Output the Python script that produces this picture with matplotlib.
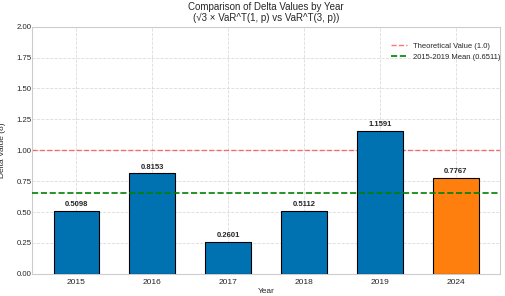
import matplotlib
matplotlib.use("Agg")
import matplotlib.pyplot as plt
import seaborn as sns

years = ["2015", "2016", "2017", "2018", "2019", "2024"]
deltas = [0.5098, 0.8153, 0.2601, 0.5112, 1.1591, 0.7767]
bar_colors = ["#0072B2"] * 5 + ["#FF7F0E"]
theory = 1.0
mean_1519 = 0.6511

sns.set_style("whitegrid")
plt.rcParams['font.family'] = ['Liberation Sans', 'DejaVu Sans']

fig = plt.figure(figsize=(5.05, 2.96), dpi=100)
ax = fig.add_axes([0.064, 0.075, 0.926, 0.835])

x = range(len(years))
bars = ax.bar(x, deltas, width=0.6, color=bar_colors, edgecolor="black", linewidth=0.8, zorder=3)
ax.axhline(theory, color="red", linestyle="--", linewidth=1, alpha=0.55,
           label="Theoretical Value (1.0)", zorder=2)
ax.axhline(mean_1519, color="green", linestyle="--", linewidth=1.2,
           label="2015-2019 Mean (0.6511)", zorder=4)

for b, v in zip(bars, deltas):
    ax.text(b.get_x() + b.get_width() / 2, v + 0.02, f"{v:.4f}",
            ha="center", va="bottom", fontsize=5.5, fontweight="bold")

ax.set_xticks(list(x))
ax.set_xticklabels(years, fontsize=6)
ax.set_ylim(0, 2.0)
ax.set_yticks([i * 0.25 for i in range(9)])
ax.tick_params(axis="y", labelsize=5.6, pad=0.5, length=0)
ax.tick_params(axis="x", pad=3.5, length=0)
ax.grid(True, linestyle="--", alpha=0.7, linewidth=0.6)
ax.set_xlabel("Year", fontsize=6, labelpad=1.5)
ax.set_ylabel("Delta Value (δ)", fontsize=6)
ax.yaxis.set_label_coords(-0.057, 0.5)
ax.set_title("Comparison of Delta Values by Year\n(√3 × VaR^T(1, p) vs VaR^T(3, p))",
             fontsize=7, pad=4, linespacing=1.15)
ax.legend(loc="upper right", bbox_to_anchor=(1.015, 0.965), fontsize=5.5,
          frameon=False, handlelength=2.0)
for s in ax.spines.values():
    s.set_color("#cccccc")

fig.savefig("out.png", dpi=100)
